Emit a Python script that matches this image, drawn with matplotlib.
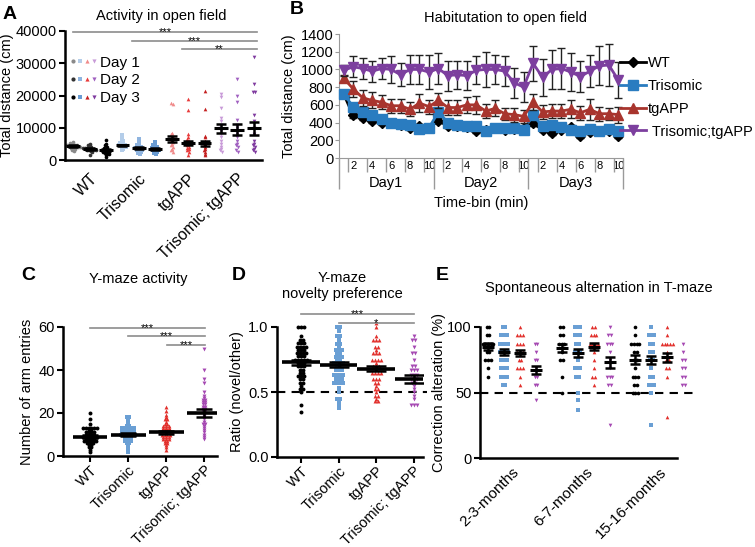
import numpy as np
import matplotlib
matplotlib.use('Agg')
import matplotlib.pyplot as plt
from matplotlib.lines import Line2D
from matplotlib.legend_handler import HandlerTuple

plt.rcParams['font.family'] = ['Liberation Sans', 'DejaVu Sans']
plt.rcParams['font.size'] = 10.5

# ---------------- data ----------------
genotypes = ['WT', 'Trisomic', 'tgAPP', 'Trisomic; tgAPP']
days = ['Day 1', 'Day 2', 'Day 3']

# A: activity in open field, total distance (cm), per genotype per day
of_wt = [[5600, 5200, 5000, 4800, 4700, 4600, 4500, 4400, 4300, 4300, 4200, 4100, 4000, 3900, 3800, 3600, 3400, 3000, 2800],
         [5000, 4500, 4200, 4000, 3800, 3700, 3600, 3500, 3500, 3400, 3300, 3200, 3100, 3000, 2800, 2500, 1500],
         [6200, 5000, 4500, 4000, 3600, 3400, 3200, 3000, 2900, 2800, 2600, 2400, 2200, 2000, 1800, 1500, 800]]
of_tri = [[7800, 7000, 6500, 6000, 5500, 5200, 5000, 4800, 4600, 4500, 4400, 4300, 4200, 4000, 3800, 3500, 3000],
          [6500, 5500, 5000, 4500, 4200, 4000, 3800, 3600, 3500, 3400, 3200, 3000, 2800, 2500, 2200, 1800],
          [5500, 5000, 4500, 4200, 4000, 3800, 3600, 3500, 3400, 3200, 3000, 2800, 2500, 2200, 2000]]
of_tg = [[17800, 17500, 8500, 8000, 7500, 7000, 6500, 6000, 5800, 5500, 5000, 4500, 4000, 3500, 3000, 2500],
         [19000, 15500, 8000, 7000, 6500, 6000, 5500, 5000, 4500, 4000, 3800, 3500, 3000, 2500, 1500],
         [21500, 15800, 7500, 7000, 6000, 5500, 5000, 4500, 4000, 3500, 3000, 2500, 2000, 1500]]
of_ttg = [[20500, 19500, 16000, 13000, 12000, 11000, 10000, 9500, 9000, 8000, 7000, 6000, 5000, 4000, 3500, 3000, 2500],
          [25000, 20000, 18000, 12500, 11000, 10000, 9000, 8000, 7000, 6000, 5000, 4500, 4000, 3000, 2500],
          [32000, 23500, 21000, 21000, 14000, 12000, 10000, 8000, 6000, 5000, 4500, 4000, 3500, 3000, 2500]]
of_mean = [4300, 3500, 3000, 4500, 3700, 3500, 6500, 5300, 5200, 9800, 9400, 9800]
of_sem = [300, 250, 350, 300, 250, 250, 900, 700, 800, 1300, 1800, 2100]

# B: habituation, total distance per 1-min bin over 3 days
time_bins = list(range(1, 11))
day_names = ['Day1', 'Day2', 'Day3']
hab_wt = [720, 480, 450, 420, 400, 390, 370, 340, 360, 340, 420, 360, 360, 350, 300, 320, 340, 320, 330, 340,
          390, 320, 280, 320, 350, 250, 290, 300, 310, 250]
hab_tri = [720, 580, 520, 490, 440, 390, 380, 370, 330, 340, 520, 400, 370, 360, 360, 310, 340, 340, 340, 320,
           480, 360, 370, 350, 320, 310, 330, 300, 330, 310]
hab_tg = [900, 780, 680, 650, 630, 590, 590, 550, 620, 580, 650, 570, 570, 600, 600, 530, 560, 500, 490, 470,
          630, 520, 530, 530, 550, 510, 550, 500, 500, 490]
hab_ttg = [990, 1030, 1010, 980, 1010, 1000, 940, 1000, 1000, 970, 1010, 930, 940, 930, 990, 1000, 1000, 980, 850, 800,
           1070, 910, 1000, 1010, 970, 920, 980, 1040, 1050, 880]
hab_wt_sem = [25, 25, 25, 25, 25, 20, 20, 20, 25, 20, 30, 25, 20, 20, 20, 20, 20, 20, 20, 20,
              30, 25, 20, 20, 25, 20, 20, 20, 20, 20]
hab_tri_sem = [30, 30, 30, 30, 30, 25, 25, 25, 25, 25, 40, 30, 25, 25, 25, 25, 25, 25, 25, 25,
               40, 30, 30, 25, 25, 25, 25, 25, 25, 25]
hab_tg_sem = [40, 90, 90, 90, 80, 80, 80, 80, 100, 80, 80, 80, 80, 90, 100, 80, 90, 70, 80, 70,
              90, 80, 80, 80, 100, 80, 120, 80, 70, 90]
hab_ttg_sem = [60, 120, 120, 120, 120, 150, 130, 160, 160, 190, 170, 170, 160, 160, 160, 200, 160, 170, 170, 170,
               200, 210, 220, 230, 210, 180, 180, 220, 240, 200]
hab_labels = ['WT', 'Trisomic', 'tgAPP', ' Trisomic;tgAPP']

# C: Y-maze arm entries
ym_wt = [20, 17, 15, 13, 13, 13, 13, 13, 13, 12, 12, 11, 11, 11, 11, 10, 10, 10, 10, 9, 9, 9, 9, 9, 9,
         8, 8, 8, 8, 7, 7, 7, 7, 7, 6, 6, 6, 5, 5, 4, 4, 3, 2]
ym_tri = [18, 18, 17, 16, 14, 14, 13, 13, 13, 13, 13, 12, 12, 12, 12, 11, 11, 11, 11, 11, 10, 10, 10, 10, 10, 10,
          9, 9, 9, 8, 8, 7, 7, 7, 6, 6, 5, 4, 3, 2]
ym_tg = [23, 21, 19, 18, 17, 17, 16, 15, 15, 14, 14, 14, 13, 13, 13, 12, 12, 12, 12, 11, 11, 11, 11, 11,
         10, 10, 10, 10, 9, 9, 9, 8, 8, 8, 7, 7, 6, 6, 5, 4, 3]
ym_ttg = [50, 40, 36, 34, 30, 28, 27, 26, 26, 25, 25, 24, 24, 23, 23, 22, 22, 21, 21, 20, 20, 19, 18, 17, 16,
          15, 15, 14, 13, 12, 11, 10, 9, 8]
ym_mean = [9, 10, 11, 20]
ym_sem = [0.6, 0.6, 0.7, 2.0]

# D: Y-maze novelty preference ratio
nov_wt = [1.0, 1.0, 1.0, 0.93, 0.9, 0.9, 0.88, 0.88, 0.88, 0.85, 0.85, 0.85, 0.85, 0.82, 0.82, 0.82, 0.8, 0.8, 0.8, 0.8,
          0.78, 0.78, 0.78, 0.75, 0.75, 0.75, 0.75, 0.75, 0.72, 0.72, 0.72, 0.7, 0.7, 0.7, 0.67, 0.67, 0.65, 0.65,
          0.62, 0.62, 0.62, 0.6, 0.6, 0.57, 0.57, 0.55, 0.52, 0.52, 0.5, 0.4, 0.35]
nov_tri = [1.0, 1.0, 0.97, 0.93, 0.93, 0.9, 0.87, 0.87, 0.85, 0.82, 0.82, 0.82, 0.8, 0.8, 0.77, 0.77, 0.77, 0.75, 0.75,
           0.72, 0.72, 0.72, 0.72, 0.7, 0.7, 0.67, 0.67, 0.67, 0.63, 0.63, 0.63, 0.63, 0.6, 0.6, 0.6,
           0.57, 0.57, 0.57, 0.57, 0.53, 0.5, 0.45, 0.45, 0.42, 0.4, 0.38]
nov_tg = [1.03, 1.0, 0.93, 0.9, 0.9, 0.9, 0.85, 0.85, 0.82, 0.8, 0.8, 0.8, 0.75, 0.75, 0.75, 0.75, 0.72, 0.7, 0.7, 0.7,
          0.65, 0.65, 0.65, 0.65, 0.6, 0.6, 0.6, 0.57, 0.57, 0.55, 0.52, 0.52, 0.5, 0.47, 0.47, 0.45, 0.43, 0.43]
nov_ttg = [0.93, 0.9, 0.9, 0.85, 0.8, 0.8, 0.75, 0.7, 0.7, 0.67, 0.67, 0.67, 0.63, 0.63, 0.63, 0.6, 0.6, 0.6,
           0.57, 0.57, 0.55, 0.52, 0.5, 0.47, 0.45, 0.4, 0.4, 0.4]
nov_mean = [0.73, 0.71, 0.68, 0.60]
nov_sem = [0.02, 0.02, 0.02, 0.03]

# E: spontaneous alternation in T-maze (%), age x genotype
ages = ['2-3-months', '6-7-months', '15-16-months']
alt_groups = [
    [100, 100, 94, 94, 87, 87, 87, 87, 87, 81, 81, 75, 75, 75, 69, 62],
    [100, 100, 94, 94, 94, 87, 87, 87, 87, 81, 81, 81, 81, 75, 75, 75, 69, 69, 69, 62, 62, 62, 56, 56],
    [100, 94, 94, 94, 87, 87, 87, 81, 81, 81, 75, 75, 69, 69, 69, 62, 56],
    [87, 87, 81, 75, 75, 69, 62, 62, 56, 56, 44],
    [100, 100, 94, 94, 87, 87, 87, 81, 75, 75, 62, 50],
    [100, 100, 100, 94, 94, 94, 87, 87, 81, 81, 81, 75, 69, 69, 69, 62, 62, 50, 44, 37],
    [100, 100, 94, 94, 94, 87, 87, 87, 87, 81, 75, 69, 62, 62, 56],
    [100, 94, 94, 87, 87, 87, 81, 75, 69, 62, 62, 62, 56, 56, 25],
    [100, 94, 87, 87, 87, 87, 81, 81, 75, 75, 69, 62, 62, 62, 56, 56, 50, 50, 50],
    [100, 94, 94, 94, 87, 87, 81, 81, 75, 75, 69, 62, 62, 56, 56, 56, 50, 25],
    [100, 94, 87, 87, 87, 87, 87, 81, 75, 75, 69, 69, 62, 31],
    [87, 81, 75, 75, 69, 69, 62, 62, 56, 56],
]
alt_mean = [85, 81, 80, 67, 84, 80, 85, 73, 75, 75, 77, 69]
alt_sem = [2.5, 2, 2.5, 3, 3, 3, 2.5, 4, 3.5, 3, 3.5, 2.5]

# ---------------- styling ----------------
markers = ['o', 's', '^', 'v']
pt_colors = ['#000000', '#6a9fd4', '#e2302c', '#a548b2']
a_colors = [['#8a8a8a', '#333333', '#000000'],
            ['#b4cde9', '#8fb4df', '#6a9cd3'],
            ['#f08a8a', '#e83a3a', '#c42020'],
            ['#c89ad8', '#a060c0', '#7f3a9f']]
b_colors = ['#000000', '#2a7cc0', '#a8352e', '#7c3f9e']
b_markers = ['D', 's', '^', 'v']
b_ms = [5, 7, 7, 7]


def swarm(vals, binsize, dx):
    vals = np.asarray(vals, float)
    keys = np.round(vals / binsize).astype(int)
    off = np.zeros(len(vals))
    for k in np.unique(keys):
        idx = np.where(keys == k)[0]
        off[idx] = (np.arange(len(idx)) - (len(idx) - 1) / 2) * dx
    return off


def style(ax):
    for s in ['top', 'right']:
        ax.spines[s].set_visible(False)
    for s in ['left', 'bottom']:
        ax.spines[s].set_linewidth(1.8)
    ax.tick_params(width=1.5, length=4, labelsize=10.5, pad=2)


def mean_sem(ax, pos, means, sems, half, capsize, lw=2.2):
    pos = np.asarray(pos, float)
    ax.hlines(means, pos - half, pos + half, color='k', lw=lw, zorder=4)
    ax.errorbar(pos, means, yerr=sems, fmt='none', ecolor='k', elinewidth=1.8,
                capsize=capsize, capthick=1.8, zorder=4)


def sig(ax, x0, x1, y, stars):
    ax.plot([x0, x1], [y, y], color='#8c8c8c', lw=1.2, clip_on=False)
    ax.text((x0 + x1) / 2, y, stars, ha='center', va='center', fontsize=8)


def rot_labels(ax, size):
    plt.setp(ax.get_xticklabels(), rotation=45, ha='right', rotation_mode='anchor', fontsize=size)


W, H = 755, 547
fig = plt.figure(figsize=(W / 100, H / 100), dpi=100)


def px_axes(l, t, r, b):
    return fig.add_axes([l / W, 1 - b / H, (r - l) / W, (b - t) / H])


# ---------------- A ----------------
ax = px_axes(65, 31, 262, 160)
style(ax)
a_groups = [of_wt, of_tri, of_tg, of_ttg]
xpos = []
for g, grp in enumerate(a_groups):
    for d, vals in enumerate(grp):
        x = g * 3 + d
        xpos.append(x)
        ax.scatter(x + swarm(vals, 700, 0.11), vals, s=7, c=a_colors[g][d], marker=markers[g],
                   lw=0, clip_on=False, zorder=2)
mean_sem(ax, xpos, of_mean, of_sem, 0.42, 3.5)
ax.set_xlim(-0.5, 11.5)
ax.set_ylim(0, 40000)
ax.set_yticks([0, 10000, 20000, 30000, 40000])
ax.set_xticks([1, 4, 7, 10], genotypes)
ax.tick_params(axis='x', length=0, pad=8)
rot_labels(ax, 11.5)
ax.set_ylabel('Total distance (cm)', fontsize=10.5, labelpad=1)
sig(ax, 0, 11.2, 39700, '***')
sig(ax, 3.6, 11.2, 37000, '***')
sig(ax, 6.6, 11.2, 34500, '**')
handles = [tuple(Line2D([], [], ls='none', marker=markers[g], color=a_colors[g][d], ms=3, mew=0)
                 for g in range(4)) for d in range(3)]
ax.legend(handles, days, handler_map={tuple: HandlerTuple(ndivide=None, pad=0.15)},
          loc='upper left', bbox_to_anchor=(0.03, 0.81), frameon=False, fontsize=11,
          handlelength=1.7, handletextpad=0.2, labelspacing=0.25, borderaxespad=0, borderpad=0)

# ---------------- B ----------------
ax = px_axes(339, 34, 623, 158)
x = np.arange(1, 3 * len(time_bins) + 1)
series = [hab_wt, hab_tri, hab_tg, hab_ttg]
sems = [hab_wt_sem, hab_tri_sem, hab_tg_sem, hab_ttg_sem]
for i in range(4):
    ax.errorbar(x, series[i], yerr=sems[i], fmt='none', ecolor='#222222', elinewidth=1,
                capsize=3, capthick=1, zorder=2 + i)
    ax.plot(x, series[i], color=b_colors[i], marker=b_markers[i], ms=b_ms[i], lw=2,
            label=hab_labels[i], zorder=2.5 + i, clip_on=False)
ax.set_xlim(0.5, 30.5)
ax.set_ylim(0, 1400)
ax.set_yticks(range(0, 1401, 200))
for s in ['top', 'right']:
    ax.spines[s].set_visible(False)
for s in ['left', 'bottom']:
    ax.spines[s].set_color('#9a9a9a')
ax.tick_params(axis='y', length=3, color='#9a9a9a', labelsize=10.5, pad=1)
ax.set_xticks([0.5, 10.5, 20.5, 30.5], [])
ax.set_xticks(np.arange(1.5, 30, 2), minor=True)
ax.tick_params(axis='x', which='major', length=22, color='#9a9a9a', width=1)
ax.tick_params(axis='x', which='minor', length=10, color='#9a9a9a', width=1)
sec = ax.secondary_xaxis('bottom')
sec.set_xticks(x[1::2], [str(t) for t in time_bins[1::2]] * 3)
sec.tick_params(length=0, labelsize=8, pad=2)
sec.spines['bottom'].set_visible(False)
sec2 = ax.secondary_xaxis('bottom')
sec2.set_xticks([5.5, 15.5, 25.5], day_names)
sec2.tick_params(length=0, labelsize=10.5, pad=13)
sec2.spines['bottom'].set_visible(False)
sec2.set_xlabel('Time-bin (min)', fontsize=10.5, labelpad=4)
ax.set_ylabel('Total distance (cm)', fontsize=10.5, labelpad=3)
ax.legend(loc='upper left', bbox_to_anchor=(0.99, 0.82), frameon=False, fontsize=10.5,
          handlelength=1.8, handletextpad=0.1, labelspacing=0.6, borderaxespad=0, borderpad=0)

# ---------------- C ----------------
ax = px_axes(63, 327, 217, 456)
style(ax)
for g, vals in enumerate([ym_wt, ym_tri, ym_tg, ym_ttg]):
    ax.scatter(g + swarm(vals, 1, 0.075), vals, s=8, c=pt_colors[g], marker=markers[g],
               lw=0, clip_on=False, zorder=2)
mean_sem(ax, range(4), ym_mean, ym_sem, 0.46, 6, lw=2.6)
ax.set_xlim(-0.71, 3.34)
ax.set_ylim(0, 60)
ax.set_yticks([0, 20, 40, 60])
ax.set_xticks(range(4), genotypes)
ax.tick_params(axis='x', pad=1)
rot_labels(ax, 10.5)
ax.set_ylabel('Number of arm entries', fontsize=10.5, labelpad=3)
sig(ax, 0, 3.03, 59.5, '***')
sig(ax, 1, 3.03, 56, '***')
sig(ax, 2.03, 3.03, 51.6, '***')

# ---------------- D ----------------
ax = px_axes(277, 327, 423, 457)
style(ax)
for g, vals in enumerate([nov_wt, nov_tri, nov_tg, nov_ttg]):
    ax.scatter(g + swarm(vals, 0.025, 0.08), vals, s=8, c=pt_colors[g], marker=markers[g],
               lw=0, clip_on=False, zorder=2)
mean_sem(ax, range(4), nov_mean, nov_sem, 0.5, 7, lw=2.6)
ax.set_xlim(-0.64, 3.25)
ax.set_ylim(0, 1.0)
ax.set_yticks([0, 0.5, 1.0], ['0.0', '0.5', '1.0'])
ax.plot([-0.64, 3.36], [0.5, 0.5], '--', color='k', lw=1.5, dashes=(4, 3), clip_on=False, zorder=1)
ax.set_xticks(range(4), genotypes)
ax.tick_params(axis='x', pad=1)
rot_labels(ax, 10.5)
ax.set_ylabel('Ratio (novel/other)', fontsize=10.5, labelpad=3)
sig(ax, 0, 3, 1.10, '***')
sig(ax, 1, 3, 1.033, '*')

# ---------------- E ----------------
ax = px_axes(480, 327, 677, 458)
style(ax)
epos = []
for a in range(3):
    for g in range(4):
        p = a * 4.6 + g
        epos.append(p)
        vals = alt_groups[a * 4 + g]
        ax.scatter(p + swarm(vals, 3, 0.17), vals, s=7, c=pt_colors[g], marker=markers[g],
                   lw=0, clip_on=False, zorder=2)
mean_sem(ax, epos, alt_mean, alt_sem, 0.38, 3.5)
ax.set_xlim(-0.5, 11.81)
ax.set_ylim(0, 100)
ax.set_yticks([0, 50, 100])
ax.plot([-0.5, 12.94], [50, 50], '--', color='k', lw=1.5, dashes=(4, 3), clip_on=False, zorder=1)
ax.set_xticks([a * 4.6 + 1.5 for a in range(3)], ages)
ax.tick_params(axis='x', length=0, pad=5)
rot_labels(ax, 11)
ax.set_ylabel('Correction alteration (%)', fontsize=10.5, labelpad=1)

# ---------------- titles and panel letters ----------------
fig.text(161 / W, 1 - 16 / H, 'Activity in open field', ha='center', va='center', fontsize=10.5)
fig.text(506 / W, 1 - 18 / H, 'Habitutation to open field', ha='center', va='center', fontsize=10.5)
fig.text(138 / W, 1 - 279 / H, 'Y-maze activity', ha='center', va='center', fontsize=10.5)
fig.text(342 / W, 1 - 286 / H, 'Y-maze\nnovelty preference', ha='center', va='center', fontsize=10.5,
         linespacing=1.15)
fig.text(599 / W, 1 - 288 / H, 'Spontaneous alternation in T-maze', ha='center', va='center', fontsize=10.5)
for letter, (lx, ly) in zip('ABCDE', [(3, 6), (290, 1), (21, 267), (232, 267), (436, 267)]):
    fig.text(lx / W, 1 - ly / H, letter, ha='left', va='top', fontsize=14, fontweight='bold')

fig.savefig('out.png', dpi=100)
